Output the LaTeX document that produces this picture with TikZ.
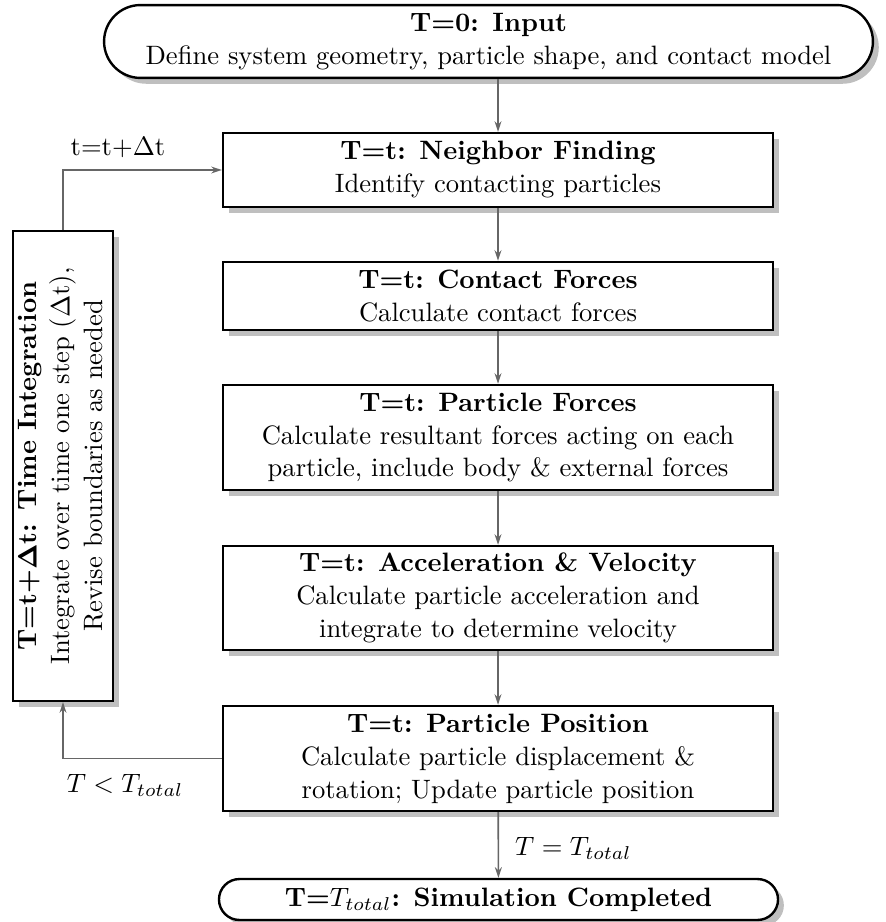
\documentclass[tikz,border=0pt]{standalone}
\usepackage{graphicx}
\usetikzlibrary{shadows,arrows.meta}
\begin{document}
\begin{tikzpicture}[x=0.376pt,y=-0.376pt,
  every node/.style={font=\fontsize{10}{12.4}\selectfont},
  box/.style={draw, line width=0.9pt, fill=white, align=center, inner sep=2pt,
    drop shadow={shadow xshift=2.2pt, shadow yshift=-2.2pt, fill=black!25, opacity=1}},
  mainbox/.style={box, minimum width=206.8pt},
  term/.style={box},
  arr/.style={draw=black!60, line width=0.6pt, -{Stealth[length=4pt,width=2.6pt]}},
  lbl/.style={inner sep=1pt}]
\useasboundingbox (0,0) rectangle (885,922);

\node[term, minimum width=289.1pt, minimum height=27.4pt, rounded corners=13.7pt] (top) at (488.5,41.5)
  {\textbf{T=0: Input}\\Define system geometry, particle shape, and contact model};

\node[mainbox, minimum height=27.8pt] (nb) at (498,170)
  {\textbf{T=t: Neighbor Finding}\\Identify contacting particles};

\node[mainbox, minimum height=25.6pt] (cf) at (498,296)
  {\textbf{T=t: Contact Forces}\\Calculate contact forces};

\node[mainbox, minimum height=39.5pt] (pf) at (498,437.5)
  {\textbf{T=t: Particle Forces}\\Calculate resultant forces acting on each\\particle, include body \& external forces};

\node[mainbox, minimum height=39.1pt] (acc) at (498,598)
  {\textbf{T=t: Acceleration \& Velocity}\\Calculate particle acceleration and\\integrate to determine velocity};

\node[mainbox, minimum height=39.5pt] (pp) at (498,758.5)
  {\textbf{T=t: Particle Position}\\Calculate particle displacement \&\\rotation; Update particle position};

\node[term, minimum width=210.2pt, minimum height=15.4pt, rounded corners=7.7pt] (fin) at (498.5,899.5)
  {\textbf{T=$T_{total}$: Simulation Completed}};

\node[box, minimum width=37.6pt, minimum height=176.7pt, inner sep=0pt] (ti) at (63,466)
  {\rotatebox{90}{\begin{tabular}{@{}c@{}}\textbf{T=t+$\mathbf{\Delta}$t: Time Integration}\\Integrate over time one step ($\Delta$t),\\Revise boundaries as needed\end{tabular}}};

\draw[arr] (nb.north |- top.south) -- (nb.north);
\draw[arr] (nb) -- (cf);
\draw[arr] (cf) -- (pf);
\draw[arr] (pf) -- (acc);
\draw[arr] (acc) -- (pp);
\draw[arr] (pp) -- (fin);
\draw[arr] (pp.west) -| (ti.south);
\draw[arr] (ti.north) |- (nb.west);

\node[lbl] (lplus) at (118,148) {t=t+$\Delta$t};
\node[lbl] (lless) at (125,785) {$T<T_{total}$};
\node[lbl, anchor=west] (leq) at (512,848) {$T=T_{total}$};
\end{tikzpicture}
\end{document}
